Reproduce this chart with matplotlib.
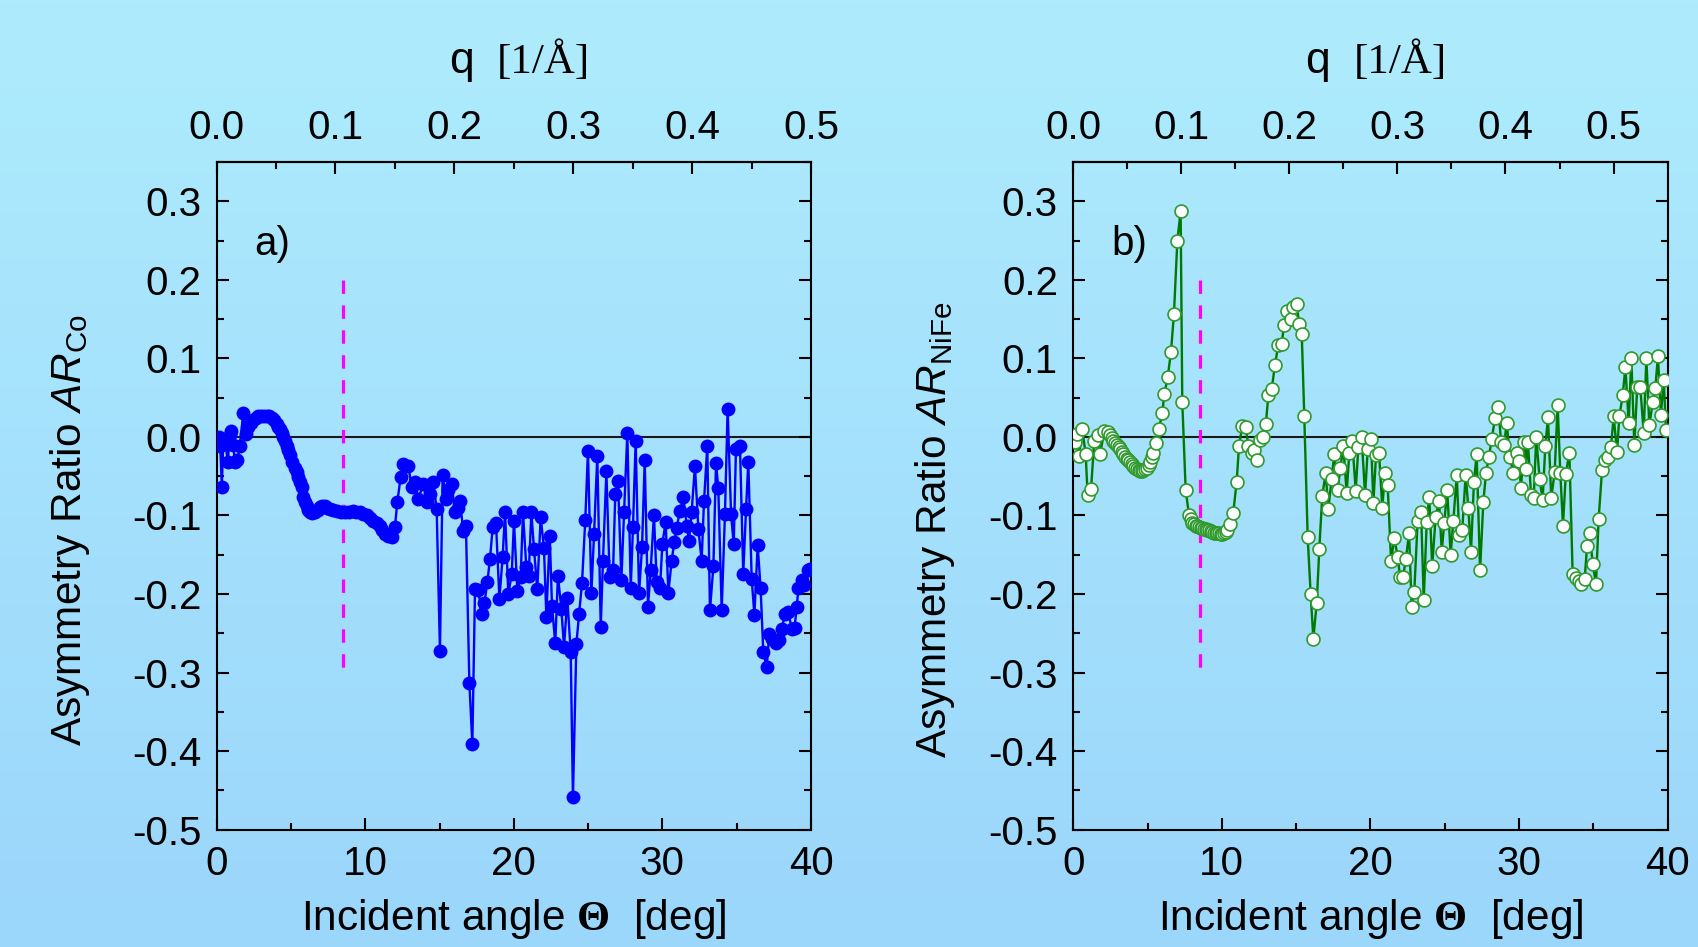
import numpy as np
import matplotlib
matplotlib.use("Agg")
import matplotlib.pyplot as plt
from matplotlib.ticker import MultipleLocator, FixedLocator, FixedFormatter

plt.rcParams['font.family'] = ['Liberation Sans', 'DejaVu Sans']
plt.rcParams['axes.unicode_minus'] = False
plt.rcParams['mathtext.fontset'] = 'custom'
plt.rcParams['mathtext.rm'] = 'Liberation Sans'
plt.rcParams['mathtext.it'] = 'Liberation Sans:italic'
plt.rcParams['mathtext.bf'] = 'Liberation Serif:bold'

# ---------------- data ----------------
theta_co = [0.05, 0.15, 0.25, 0.35, 0.45, 0.6, 0.75, 0.9, 1.0, 1.1, 1.25, 1.4, 1.55, 1.8, 1.95, 2.14,
            2.3, 2.47, 2.65, 2.81, 3.0, 3.2, 3.37, 3.55, 3.71, 3.88, 4.04, 4.16, 4.27, 4.38, 4.49, 4.6,
            4.72, 4.83, 4.94, 5.1, 5.28, 5.4, 5.5, 5.62, 5.73, 5.84, 5.95, 6.06, 6.18, 6.29, 6.45, 6.62,
            6.8, 6.96, 7.12, 7.29, 7.46, 7.63, 7.85, 8.08, 8.35, 8.64, 8.9, 9.2, 9.4, 9.65, 9.85, 10.1,
            10.3, 10.55, 10.78, 11.0, 11.15, 11.33, 11.55, 11.78, 12.0, 12.16, 12.39, 12.57, 12.9, 13.13,
            13.35, 13.57, 13.91, 14.14, 14.36, 14.58, 14.81, 15.03, 15.21, 15.44, 15.6, 15.82, 16.04,
            16.27, 16.38, 16.6, 16.78, 17.01, 17.21, 17.39, 17.61, 17.84, 18.02, 18.22, 18.4, 18.58,
            18.8, 19.03, 19.25, 19.41, 19.63, 19.86, 20.01, 20.24, 20.46, 20.62, 20.84, 21.0, 21.18,
            21.36, 21.58, 21.81, 22.03, 22.19, 22.42, 22.57, 22.79, 22.97, 23.2, 23.38, 23.6, 23.83,
            23.98, 24.21, 24.39, 24.59, 24.81, 24.99, 25.22, 25.4, 25.62, 25.85, 26.0, 26.23, 26.45,
            26.68, 26.83, 27.01, 27.24, 27.42, 27.64, 27.87, 28.02, 28.2, 28.43, 28.63, 28.81, 29.03,
            29.21, 29.43, 29.62, 29.84, 30.0, 30.22, 30.4, 30.62, 30.8, 30.96, 31.18, 31.41, 31.64,
            31.79, 31.97, 32.19, 32.42, 32.64, 32.8, 33.02, 33.2, 33.43, 33.61, 33.76, 33.99, 34.21,
            34.39, 34.62, 34.8, 34.95, 35.22, 35.44, 35.63, 35.78, 36.01, 36.19, 36.41, 36.61, 36.79,
            37.02, 37.19, 37.4, 37.62, 37.85, 38.03, 38.25, 38.47, 38.7, 38.89, 39.04, 39.15, 39.37,
            39.55, 39.77, 39.95]
ar_co = [-0.008, 0.0, -0.012, -0.064, -0.005, -0.008, -0.032, 0.003, 0.008, -0.010, -0.032, -0.030,
         -0.012, 0.031, 0.004, 0.012,
         0.018, 0.022, 0.024, 0.026, 0.026, 0.027, 0.027, 0.026, 0.024, 0.021, 0.017, 0.013, 0.010,
         0.005, 0.0, -0.005,
         -0.011, -0.017, -0.023, -0.032, -0.039, -0.045, -0.051, -0.057, -0.064, -0.077, -0.083,
         -0.088, -0.093, -0.096, -0.097, -0.096,
         -0.093, -0.089, -0.088, -0.088, -0.090, -0.092, -0.093, -0.094, -0.095, -0.096, -0.095,
         -0.094, -0.095, -0.096, -0.098, -0.100,
         -0.103, -0.107, -0.110, -0.113, -0.118, -0.124, -0.126, -0.128, -0.115, -0.083, -0.051,
         -0.034, -0.037, -0.064,
         -0.058, -0.079, -0.060, -0.083, -0.073, -0.058, -0.092, -0.272, -0.049, -0.079, -0.068,
         -0.060, -0.096,
         -0.090, -0.082, -0.120, -0.114, -0.313, -0.391, -0.194, -0.195, -0.225, -0.212, -0.185,
         -0.155, -0.115,
         -0.109, -0.206, -0.153, -0.095, -0.200, -0.175, -0.107, -0.196, -0.179, -0.096, -0.166,
         -0.177, -0.096,
         -0.143, -0.194, -0.102, -0.142, -0.229, -0.126, -0.215, -0.263, -0.177, -0.219, -0.268,
         -0.205, -0.274,
         -0.459, -0.264, -0.226, -0.186, -0.106, -0.018, -0.199, -0.124, -0.024, -0.242, -0.158,
         -0.044, -0.179,
         -0.170, -0.073, -0.056, -0.182, -0.096, 0.005, -0.192, -0.115, -0.005, -0.199, -0.140,
         -0.029, -0.216,
         -0.170, -0.099, -0.185, -0.192, -0.136, -0.108, -0.199, -0.158, -0.134, -0.116, -0.094,
         -0.077, -0.113,
         -0.132, -0.095, -0.037, -0.117, -0.158, -0.082, -0.012, -0.221, -0.165, -0.033, -0.065,
         -0.220, -0.098,
         0.035, -0.098, -0.137, -0.015, -0.011, -0.174, -0.092, -0.032, -0.181, -0.227, -0.138,
         -0.193, -0.274,
         -0.293, -0.251, -0.257, -0.262, -0.259, -0.244, -0.226, -0.223, -0.244, -0.243, -0.217,
         -0.193, -0.182,
         -0.189, -0.170, -0.168]

theta_nife = [0.05, 0.12, 0.23, 0.39, 0.61, 0.84, 0.97, 1.2, 1.42, 1.65, 1.8, 2.1, 2.32, 2.48, 2.6,
              2.7, 2.82, 2.93, 3.05, 3.16, 3.27, 3.38, 3.5, 3.6, 3.72, 3.83, 3.95, 4.05, 4.17, 4.28,
              4.4, 4.5, 4.62, 4.73, 4.85, 4.95, 5.07, 5.18, 5.3, 5.4, 5.58, 5.77, 6.0, 6.13, 6.36,
              6.58, 6.78, 7.01, 7.23, 7.34, 7.57, 7.79, 7.92, 8.02, 8.13, 8.24, 8.35, 8.47, 8.58,
              8.69, 8.8, 8.92, 9.03, 9.14, 9.25, 9.37, 9.48, 9.59, 9.7, 9.82, 9.93, 10.04, 10.15,
              10.27, 10.38, 10.55, 10.77, 11.0, 11.16, 11.38, 11.61, 11.78, 12.01, 12.19, 12.37,
              12.57, 12.79, 12.97, 13.13, 13.36, 13.58, 13.8, 14.03, 14.19, 14.37, 14.66, 14.81,
              15.04, 15.2, 15.38, 15.55, 15.78, 15.98, 16.16, 16.39, 16.56, 16.76, 16.99, 17.17,
              17.39, 17.57, 17.8, 17.97, 18.18, 18.4, 18.58, 18.78, 19.01, 19.19, 19.41, 19.64,
              19.82, 20.04, 20.2, 20.38, 20.58, 20.8, 20.98, 21.16, 21.39, 21.61, 21.84, 21.99,
              22.2, 22.38, 22.6, 22.78, 22.95, 23.18, 23.41, 23.59, 23.79, 23.96, 24.16, 24.39,
              24.62, 24.8, 24.97, 25.17, 25.4, 25.58, 25.81, 25.98, 26.18, 26.41, 26.59, 26.77,
              26.97, 27.15, 27.38, 27.6, 27.78, 27.98, 28.16, 28.39, 28.61, 28.79, 29.0, 29.17,
              29.39, 29.62, 29.84, 30.0, 30.13, 30.36, 30.45, 30.6, 30.81, 30.99, 31.16, 31.39,
              31.59, 31.77, 31.95, 32.17, 32.4, 32.6, 32.78, 32.96, 33.15, 33.39, 33.61, 33.84,
              34.02, 34.19, 34.42, 34.58, 34.76, 34.96, 35.18, 35.36, 35.59, 35.77, 35.99, 36.19,
              36.37, 36.6, 36.75, 36.98, 37.16, 37.38, 37.56, 37.76, 37.96, 38.16, 38.39, 38.57,
              38.77, 39.0, 39.17, 39.35, 39.55, 39.74, 39.89]
ar_nife = [-0.002, -0.007, 0.004, -0.024, 0.010, -0.022, -0.074, -0.066, -0.005, 0.002, -0.022,
           0.007, 0.006, 0.002, -0.002,
           -0.005, -0.008, -0.010, -0.013, -0.016, -0.019, -0.022, -0.025, -0.028, -0.030, -0.032,
           -0.035, -0.037, -0.039, -0.041,
           -0.042, -0.043, -0.043, -0.042, -0.041, -0.040, -0.036, -0.032, -0.026, -0.020, -0.008,
           0.010, 0.031, 0.054, 0.076,
           0.108, 0.157, 0.250, 0.288, 0.044, -0.068, -0.099, -0.105, -0.109, -0.111, -0.113,
           -0.114, -0.115, -0.116,
           -0.116, -0.117, -0.117, -0.118, -0.119, -0.120, -0.121, -0.122, -0.122, -0.123, -0.123,
           -0.124, -0.124, -0.123,
           -0.121, -0.118, -0.111, -0.097, -0.057, -0.011, 0.014, 0.013, -0.012, -0.020, -0.017,
           -0.029,
           -0.004, 0.000, 0.017, 0.053, 0.061, 0.092, 0.117, 0.118, 0.143, 0.160, 0.150, 0.165,
           0.169, 0.144, 0.131, 0.027, -0.128, -0.200, -0.257, -0.211, -0.143, -0.075, -0.046,
           -0.092,
           -0.054, -0.022, -0.068, -0.040, -0.012, -0.071, -0.021, -0.005, -0.069, -0.013, 0.000,
           -0.074,
           -0.016, -0.003, -0.084, -0.023, -0.020, -0.090, -0.046, -0.061, -0.158, -0.129, -0.153,
           -0.178,
           -0.178, -0.156, -0.123, -0.217, -0.198, -0.107, -0.095, -0.208, -0.108, -0.076, -0.165,
           -0.102,
           -0.081, -0.146, -0.109, -0.068, -0.150, -0.107, -0.049, -0.125, -0.119, -0.048, -0.090,
           -0.146,
           -0.057, -0.022, -0.170, -0.083, -0.046, -0.025, -0.003, 0.024, 0.038, -0.006, -0.010,
           0.018,
           -0.026, -0.046, -0.020, -0.031, -0.065, -0.006, -0.041, -0.006, -0.074, -0.078, 0.000,
           -0.054,
           -0.080, -0.012, 0.025, -0.078, -0.045, 0.041, -0.046, -0.113, -0.047, -0.020, -0.175,
           -0.180,
           -0.183, -0.187, -0.181, -0.139, -0.122, -0.162, -0.187, -0.104, -0.042, -0.029, -0.026,
           -0.013,
           0.026, -0.019, 0.026, 0.053, 0.089, 0.018, 0.100, -0.010, 0.064, 0.064, 0.005, 0.100,
           0.015, 0.044, 0.062, 0.103, 0.028, 0.073, 0.009]

assert len(theta_co) == len(ar_co), (len(theta_co), len(ar_co))
assert len(theta_nife) == len(ar_nife), (len(theta_nife), len(ar_nife))

critical_theta = 8.5
critical_span = [0.2, -0.3]
q_max = [0.5, 0.55]          # q at 40 deg for the two panels
x_ticks = [0, 10, 20, 30, 40]
y_ticks = [-0.5, -0.4, -0.3, -0.2, -0.1, 0.0, 0.1, 0.2, 0.3]
y_labels = ['-0.5', '-0.4', '-0.3', '-0.2', '-0.1', '0.0', '0.1', '0.2', '0.3']
q_ticks = [0.0, 0.1, 0.2, 0.3, 0.4, 0.5]
q_labels = ['0.0', '0.1', '0.2', '0.3', '0.4', '0.5']
panel_tags = ['a)', 'b)']
ylabels = [r'Asymmetry Ratio $\mathit{AR}_{\mathrm{Co}}$',
           r'Asymmetry Ratio $\mathit{AR}_{\mathrm{NiFe}}$']

# ---------------- figure ----------------
W, H = 1698, 947
fig = plt.figure(figsize=(W / 100, H / 100), dpi=100)

# gradient background
bg = fig.add_axes([0, 0, 1, 1], zorder=-10)
top_c = np.array([174, 236, 253]) / 255
bot_c = np.array([155, 214, 251]) / 255
t = np.linspace(0, 1, 256)[:, None]
grad = (top_c[None, :] * (1 - t) + bot_c[None, :] * t)[:, None, :]
bg.imshow(grad, aspect='auto', extent=[0, 1, 0, 1], origin='upper')
bg.set_axis_off()

ax_left_px = [216.6, 1073.2]
ax_w_px = 594.4
ax_top_px, ax_bot_px = 162.0, 829.6

TICK_FS = 29
LABEL_FS = 30.5

axes = []
for i in range(2):
    ax = fig.add_axes([ax_left_px[i] / W, 1 - ax_bot_px / H, ax_w_px / W, (ax_bot_px - ax_top_px) / H])
    ax.set_facecolor('none')
    axes.append(ax)

for i, ax in enumerate(axes):
    ax.set_xlim(0, 40)
    ax.set_ylim(-0.5, 0.35)
    ax.axhline(0, color='#1a1a1a', lw=1.5, zorder=1)
    ax.plot([critical_theta, critical_theta], critical_span, color='#ff00ff', lw=2.3,
            linestyle=(0, (4.2, 3.6)), zorder=2)
    if i == 0:
        ax.plot(theta_co, ar_co, color='#0000ff', lw=1.7, marker='o', ms=10,
                mfc='#0000ff', mec='#0000ff', mew=0, zorder=3)
    else:
        ax.plot(theta_nife, ar_nife, color='#007a00', lw=1.7, marker='o', ms=9.3,
                mfc='white', mec='#2e9a2e', mew=1.2, zorder=3)

    ax.xaxis.set_major_locator(FixedLocator(x_ticks))
    ax.xaxis.set_major_formatter(FixedFormatter([str(v) for v in x_ticks]))
    ax.xaxis.set_minor_locator(MultipleLocator(5))
    ax.yaxis.set_major_locator(FixedLocator(y_ticks))
    ax.yaxis.set_major_formatter(FixedFormatter(y_labels))
    ax.yaxis.set_minor_locator(MultipleLocator(0.05))
    ax.tick_params(which='both', direction='in', top=False, right=True, width=1.5,
                   labelsize=TICK_FS, pad=11, colors='black')
    ax.tick_params(which='major', length=8.3)
    ax.tick_params(which='minor', length=4.8)
    for sp in ax.spines.values():
        sp.set_linewidth(1.5)

    qm = q_max[i]
    sec = ax.secondary_xaxis('top', functions=(lambda th, qm=qm: th * qm / 40.0,
                                               lambda q, qm=qm: q * 40.0 / qm))
    sec.xaxis.set_major_locator(FixedLocator(q_ticks))
    sec.xaxis.set_major_formatter(FixedFormatter(q_labels))
    sec.xaxis.set_minor_locator(MultipleLocator(0.05))
    sec.tick_params(which='both', direction='in', width=1.5, labelsize=TICK_FS, pad=11)
    sec.tick_params(which='major', length=8.3)
    sec.tick_params(which='minor', length=4.8)
    sec.spines['top'].set_linewidth(1.5)

    # panel tag
    ax.text(2.55, 0.245, panel_tags[i], fontsize=29, ha='left', va='center', zorder=5)

    shift = ax_left_px[i] - ax_left_px[0]
    # y label
    fig.text((70 + shift + (8 if i else 0)) / W, 1 - 530 / H, ylabels[i], rotation=90,
             ha='center', va='center', fontsize=LABEL_FS)
    # x label
    fig.text((514 + shift) / W, 1 - 930 / H, r'Incident angle $\mathbf{\Theta}$  [deg]',
             ha='center', va='baseline', fontsize=LABEL_FS)
    # top label
    fig.text((449 + shift) / W, 1 - 73 / H, 'q', ha='left', va='baseline', fontsize=32)
    fig.text((497 + shift) / W, 1 - 73 / H, '[1/Å]', ha='left', va='baseline', fontsize=31,
             family=['Liberation Serif', 'DejaVu Serif'])

fig.savefig('out.png', dpi=100)
